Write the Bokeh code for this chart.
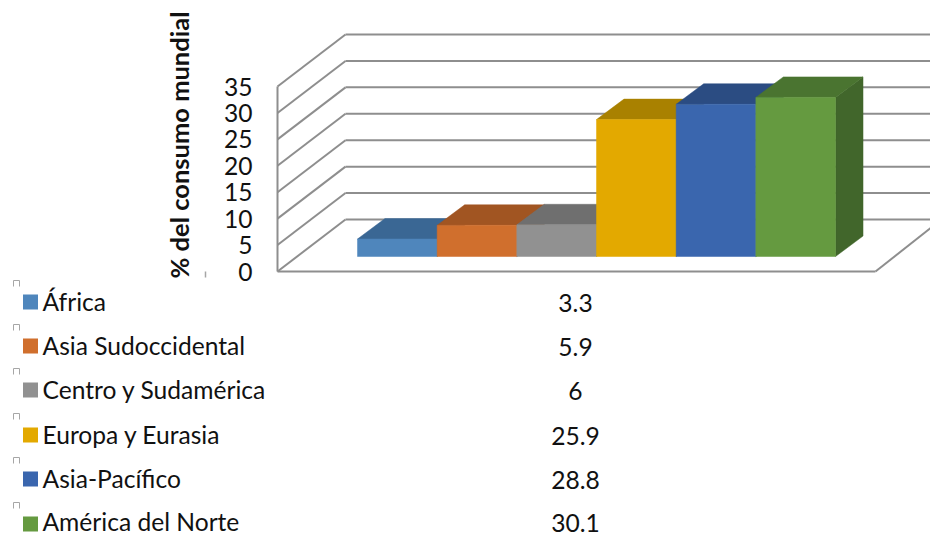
from bokeh.plotting import figure
from bokeh.embed import file_html
from bokeh.resources import INLINE
from bokeh.models import Range1d, LinearAxis, FixedTicker
from bokeh.core.properties import value
import math

categories = ["África", "Asia Sudoccidental", "Centro y Sudamérica", "Europa y Eurasia", "Asia-Pacífico", "América del Norte"]
values = [3.3, 5.9, 6, 25.9, 28.8, 30.1]
value_labels = ["3.3", "5.9", "6", "25.9", "28.8", "30.1"]
ticks = [0, 5, 10, 15, 20, 25, 30, 35]
axis_title = "% del consumo mundial"
front_colors = ["#4f86bc", "#d06f2d", "#919191", "#e3a900", "#3a66ae", "#659a40"]
top_colors = ["#3a6794", "#a15522", "#6f6f6f", "#a98100", "#2b4c82", "#4a7430"]
side_colors = ["#35608a", "#8f4c1e", "#636363", "#977300", "#264474", "#41662b"]

W, H = 930, 537
PAD = 0
BAR_PX = 79.67
UNIT_PX = 185 / 35
BAR_X0 = 357
ZERO_Y = 271

def X(px):
    return (px - BAR_X0) / BAR_PX

def Y(py):
    return (ZERO_Y - py) / UNIT_PX

GRID = "#8e8e8e"
FONT = value("Lato")
SIZE = "24.6px"

p = figure(width=W, height=H, output_backend="svg", toolbar_location=None,
           x_range=Range1d(X(PAD), X(PAD + W)), y_range=Range1d(Y(PAD + H), Y(PAD)),
           x_axis_type=None, y_axis_type=None, min_border=0)
p.outline_line_color = None
p.background_fill_color = "white"

wall_l, wall_back, floor_r = X(277), X(345), X(941)
floor_front_r = X(875)
depth_y = 52 / UNIT_PX

# back wall lines, side wall diagonals
p.segment([wall_back] * len(ticks), [t + depth_y for t in ticks], [floor_r] * len(ticks), [t + depth_y for t in ticks],
          line_color=GRID, line_width=2)
p.segment([wall_l] * len(ticks), ticks, [wall_back] * len(ticks), [t + depth_y for t in ticks],
          line_color=GRID, line_width=2)
# left edge and floor
p.segment([wall_l, wall_l, floor_front_r], [0, 0, 0], [wall_l, floor_front_r, floor_r], [ticks[-1], 0, depth_y],
          line_color=GRID, line_width=2)

# bars
base = 15 / UNIT_PX
bar_dx = 27.5 / BAR_PX
bar_dy = 20.5 / UNIT_PX
for i, v in enumerate(values):
    t = base + v
    p.patch([i + 1, i + 1 + bar_dx, i + 1 + bar_dx, i + 1],
            [base, base + bar_dy, t + bar_dy, t], fill_color=side_colors[i], line_color=side_colors[i], line_width=0.5)
    p.patch([i, i + bar_dx, i + 1 + bar_dx, i + 1],
            [t, t + bar_dy, t + bar_dy, t], fill_color=top_colors[i], line_color=top_colors[i], line_width=0.5)
    p.quad(left=i, right=i + 1, bottom=base, top=t, fill_color=front_colors[i], line_color=front_colors[i], line_width=0.5)

# axis
axis = LinearAxis(fixed_location=wall_l, ticker=FixedTicker(ticks=ticks))
axis.axis_line_color = None
axis.major_tick_line_color = None
axis.minor_tick_line_color = None
axis.major_label_standoff = 19
axis.major_label_text_font = "Lato"
axis.major_label_text_font_size = SIZE
axis.major_label_text_color = "#111111"
axis.major_label_orientation = "horizontal"
p.add_layout(axis, "left")

p.text([X(178.5)], [Y(144.5)], text=[axis_title], angle=math.pi / 2, text_align="center", text_baseline="middle",
       text_font=FONT, text_font_size="25.5px", text_font_style="bold", text_color="#111111")

# table rows
row_y = [303, 347, 391, 436, 480, 525]
text_y = [301, 345, 389, 434, 478, 521]
for i, name in enumerate(categories):
    ry = row_y[i]
    ty = text_y[i]
    p.quad(left=X(22.5), right=X(37.5), bottom=Y(ry + 6), top=Y(ry - 9), fill_color=front_colors[i], line_color=None)
    p.text([X(42)], [Y(ty)], text=[name], text_align="left", text_baseline="middle",
           text_font=FONT, text_font_size=SIZE, text_color="#111111")
    p.text([X(575)], [Y(ty + 1)], text=[value_labels[i]], text_align="center", text_baseline="middle",
           text_font=FONT, text_font_size=SIZE, text_color="#111111")
    m = ry - 17
    p.line([X(13), X(13), X(19), X(19)], [Y(m), Y(m - 6), Y(m - 6), Y(m)], line_color="#a6a6a6", line_width=1)

p.segment([X(205)], [Y(271)], [X(205)], [Y(277)], line_color="#a6a6a6", line_width=1.5)

open("out.html", "w").write(file_html(p, INLINE))
